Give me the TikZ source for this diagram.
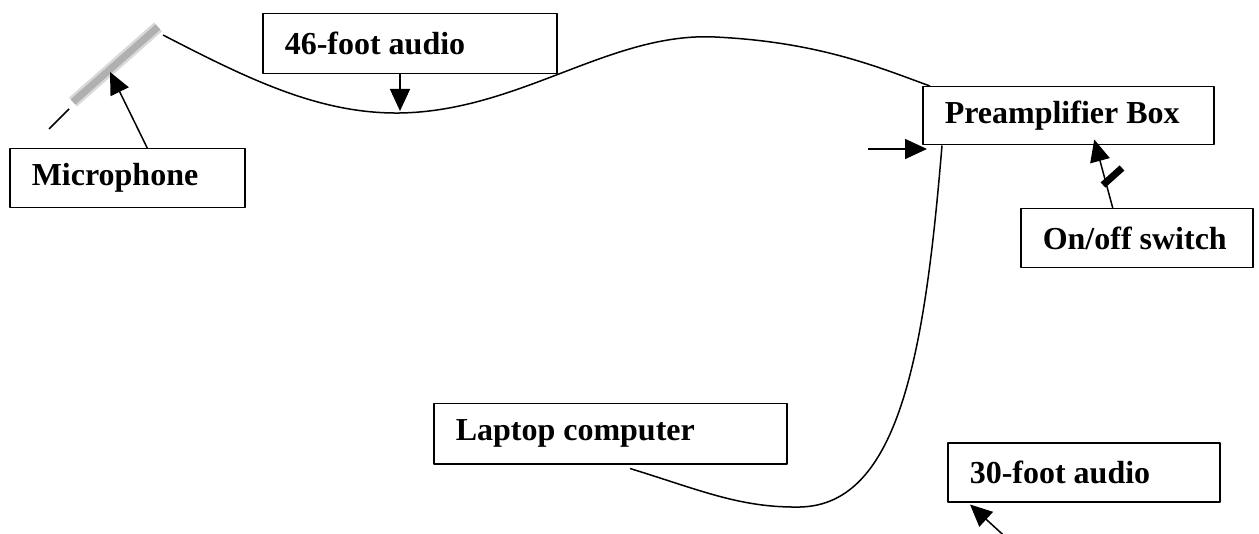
\documentclass[tikz,border=0pt]{standalone}
\usepackage{fontspec}
\setmainfont{Liberation Serif}
\usetikzlibrary{arrows.meta}

\tikzset{
  labelbox/.style={draw, line width=1.5bp, anchor=north west, inner xsep=22bp, inner ysep=0bp,
    font=\fontsize{32bp}{38bp}\selectfont\bfseries},
  cable/.style={line width=1.5bp},
}
\newcommand{\boxtext}[2]{\makebox[#1][l]{#2}}

\begin{document}
\begin{tikzpicture}[x=1bp,y=-1bp,>={Triangle[length=22bp,width=20bp]},line join=bevel]
  \pgfsetlinewidth{1.5bp}
  \useasboundingbox (0,0) rectangle (1259,534);
%%
  % Node: Microphone
  \node[labelbox, minimum height=59bp] (mic) at (9,148) {\boxtext{191bp}{Microphone}};
  % Node: 46-foot audio
  \node[labelbox, minimum height=60bp] (audio46) at (262,13) {\boxtext{250bp}{46-foot audio}};
  % Node: Preamplifier Box
  \node[labelbox, minimum height=58bp] (preamp) at (922,86) {\boxtext{247bp}{Preamplifier Box}};
  % Node: On/off switch
  \node[labelbox, minimum height=59bp] (switch) at (1020,208) {\boxtext{188bp}{On/off switch}};
  % Node: Laptop computer
  \node[labelbox, minimum height=60bp] (laptop) at (433,403) {\boxtext{309bp}{Laptop computer}};
  % Node: 30-foot audio
  \node[labelbox, minimum height=59bp] (audio30) at (947,442) {\boxtext{228bp}{30-foot audio}};
%
  % the microphone itself
  \coordinate (micbot) at (73,102);
  \coordinate (mictop) at (158,27);
  \draw[line width=12bp, gray!30] (micbot) -- (mictop);
  \draw[line width=7bp, gray!62] (micbot) -- (mictop);
  \draw (49,129) -- (69,109);
  \coordinate (micmid) at (110,72);
%
  \coordinate (dip46) at (400,113);
  \coordinate (crest46) at (715,37);
  \coordinate (feed) at (868,149);
  \coordinate (bend30) at (800,507);
  \coordinate (tail30) at (1012,543);
  \draw[line width=7bp] (1103,185) -- (1122,168);
%
  % Edge: microphone -> preamp (46-foot cable)
  \draw[cable] (163,35) .. controls (250,80) and (320,114) .. (dip46)
    .. controls (520,111) and (610,32) .. (crest46)
    .. controls (820,42) and (880,68) .. ([xshift=8bp]preamp.north west);
  % Edge: preamp -> laptop (30-foot cable)
  \draw[cable] ([xshift=20bp]preamp.south west) .. controls (925,350) and (900,505) .. (bend30)
    .. controls (740,508) and (700,490) .. ([xshift=197bp,yshift=-4bp]laptop.south west);
%
  % Edge: labels -> things
  \draw[->] ([xshift=20bp]mic.north) -- (micmid);
  \draw[->] (audio46.south -| dip46) -- ([yshift=2bp]dip46);
  \draw[->] (feed) -- ([xshift=5bp]feed -| preamp.west);
  \draw[->] ([xshift=-24bp]switch.north) -- ([xshift=26bp,yshift=6bp]preamp.south);
  \draw[->] (tail30) -- ([xshift=23bp,yshift=-2bp]audio30.south west);
%
\end{tikzpicture}
\end{document}
